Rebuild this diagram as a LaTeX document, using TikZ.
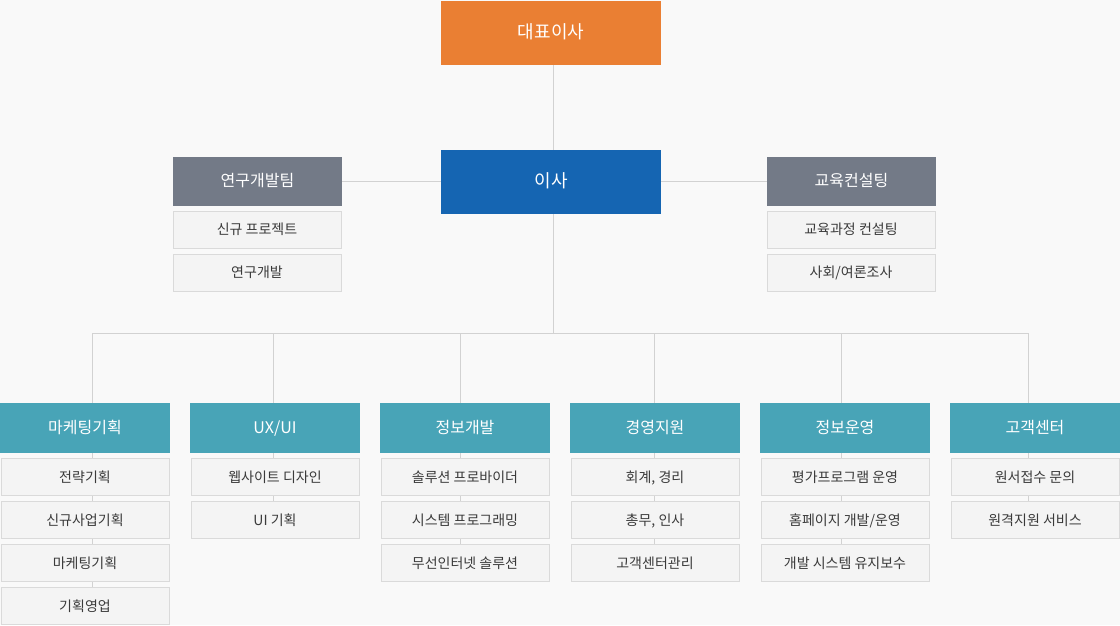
\documentclass[tikz,border=0pt]{standalone}
\usepackage{fontspec}
\setmainfont{Noto Sans CJK KR}
\pgfdeclarelayer{bg}
\pgfdeclarelayer{lines}
\pgfsetlayers{bg,lines,main}
\definecolor{pagebg}{HTML}{F9F9F9}
\definecolor{ceoc}{HTML}{EA7F33}
\definecolor{isac}{HTML}{1565B2}
\definecolor{grayhead}{HTML}{737A87}
\definecolor{teal}{HTML}{48A4B7}
\definecolor{linec}{HTML}{D2D2D2}
\definecolor{subfill}{HTML}{F4F4F4}
\definecolor{subborder}{HTML}{DADADA}
\definecolor{subtext}{HTML}{3A3A3A}
\tikzset{
  evenbase/.style={text height=1.0em, text depth=0em},
  topbox/.style={rectangle, inner sep=0pt, evenbase, minimum width=220pt, minimum height=64pt, text=white, font=\fontsize{18}{21}\selectfont},
  sidehead/.style={rectangle, inner sep=0pt, evenbase, fill=grayhead, minimum width=169pt, minimum height=49pt, text=white, font=\fontsize{16}{19}\selectfont},
  colhead/.style={rectangle, inner sep=0pt, evenbase, fill=teal, minimum width=170pt, minimum height=50pt, text=white, font=\fontsize{16}{19}\selectfont},
  subbox/.style={rectangle, inner sep=0pt, evenbase, fill=subfill, draw=subborder, line width=1pt, minimum width=168pt, minimum height=37pt, text=subtext, font=\fontsize{14}{17}\selectfont},
  conn/.style={draw=linec, line width=1pt},
}
\begin{document}
\begin{tikzpicture}[x=1pt,y=-1pt]
\begin{pgfonlayer}{bg}
\fill[pagebg] (0,0) rectangle (1120,625);
\end{pgfonlayer}
\useasboundingbox (0,0) rectangle (1120,625);
% top
\node[topbox, fill=ceoc] (ceo) at (551,33) {대표이사};
\node[topbox, fill=isac] (isa) at (551,182) {이사};
% side teams
\node[sidehead] (rnd) at (257.5,181) {연구개발팀};
\node[subbox] (rnd1) at (257,229.5) {신규 프로젝트};
\node[subbox] (rnd2) at (257,272.5) {연구개발};
\node[sidehead] (edu) at (851.5,181) {교육컨설팅};
\node[subbox] (edu1) at (851,229.5) {교육과정 컨설팅};
\node[subbox] (edu2) at (851,272.5) {사회/여론조사};
% columns
\node[colhead] (h1) at (85,428) {마케팅기획};
\node[subbox] (s11) at (85,477) {전략기획};
\node[subbox] (s12) at (85,520) {신규사업기획};
\node[subbox] (s13) at (85,563) {마케팅기획};
\node[subbox] (s14) at (85,606) {기획영업};
\node[colhead] (h2) at (275,428) {UX/UI};
\node[subbox] (s21) at (275,477) {웹사이트 디자인};
\node[subbox] (s22) at (275,520) {UI 기획};
\node[colhead] (h3) at (465,428) {정보개발};
\node[subbox] (s31) at (465,477) {솔루션 프로바이더};
\node[subbox] (s32) at (465,520) {시스템 프로그래밍};
\node[subbox] (s33) at (465,563) {무선인터넷 솔루션};
\node[colhead] (h4) at (655,428) {경영지원};
\node[subbox] (s41) at (655,477) {회계, 경리};
\node[subbox] (s42) at (655,520) {총무, 인사};
\node[subbox] (s43) at (655,563) {고객센터관리};
\node[colhead] (h5) at (845,428) {정보운영};
\node[subbox] (s51) at (845,477) {평가프로그램 운영};
\node[subbox] (s52) at (845,520) {홈페이지 개발/운영};
\node[subbox] (s53) at (845,563) {개발 시스템 유지보수};
\node[colhead] (h6) at (1035,428) {고객센터};
\node[subbox] (s61) at (1035,477) {원서접수 문의};
\node[subbox] (s62) at (1035,520) {원격지원 서비스};
% bus coordinates
\coordinate (top) at (553.5,33);
\coordinate (bus) at (553.5,333);
\coordinate (t1) at (92,333);
\coordinate (t2) at (273,333);
\coordinate (t3) at (460,333);
\coordinate (t4) at (654,333);
\coordinate (t5) at (841,333);
\coordinate (t6) at (1028,333);
\begin{pgfonlayer}{lines}
\draw[conn] (top) -- (bus);
\draw[conn] (rnd.east) -- (rnd.east -| isa.west);
\draw[conn] (edu.west) -- (edu.west -| isa.east);
\draw[conn] (t1) -- (t6);
\draw[conn] (t1) -- (t1 |- s14.center);
\draw[conn] (t2) -- (t2 |- s22.center);
\draw[conn] (t3) -- (t3 |- s33.center);
\draw[conn] (t4) -- (t4 |- s43.center);
\draw[conn] (t5) -- (t5 |- s53.center);
\draw[conn] (t6) -- (t6 |- s62.center);
\end{pgfonlayer}
\end{tikzpicture}
\end{document}
